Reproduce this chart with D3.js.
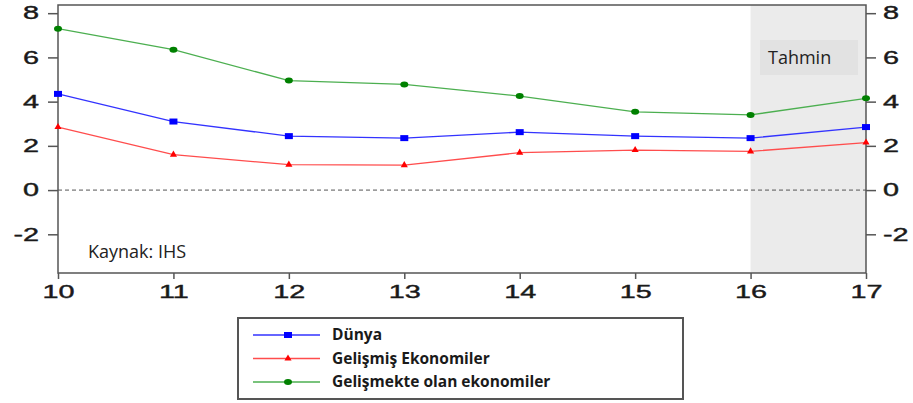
<!doctype html>
<html lang="tr">
  <head>
    <meta charset="UTF-8" />
    <title>Büyüme</title>
    <style>
      body { margin: 0; background: #fff; }
      svg { display: block; }
    </style>
  </head>
  <body>
    <svg id="chart"></svg>
    <script src="https://d3js.org/d3.v7.min.js"></script>
    <script>
      /* global d3 */

      // values
      const years = [10, 11, 12, 13, 14, 15, 16, 17];
      const dunya = [4.35, 3.1, 2.44, 2.35, 2.62, 2.44, 2.35, 2.85];
      const gelismis = [2.85, 1.6, 1.15, 1.13, 1.69, 1.81, 1.75, 2.15];
      const gelismekte = [7.3, 6.35, 4.95, 4.78, 4.25, 3.54, 3.4, 4.15];
      const yTicks = [-2, 0, 2, 4, 6, 8];
      const forecastFrom = 16;

      const series = [
        { name: "Dünya", values: dunya, color: "#3333ff", marker: "square", mcolor: "#0000ff" },
        { name: "Gelişmiş Ekonomiler", values: gelismis, color: "#ff4d4d", marker: "triangle", mcolor: "#ff0000" },
        { name: "Gelişmekte olan ekonomiler", values: gelismekte, color: "#4caf50", marker: "circle", mcolor: "#008000" },
      ];

      const width = 913,
        height = 403;
      const plot = { left: 58, right: 866, top: 5, bottom: 273 };

      const svg = d3.select("#chart").attr("width", width).attr("height", height);

      const x = d3.scaleLinear().domain([10, 17]).range([plot.left, plot.right]);
      const y = d3.scaleLinear().domain([-3.75, 8.37]).range([plot.bottom, plot.top]);
      const fmt = (d) => String(d); // plain hyphen, like the original

      // forecast shading
      svg.append("rect")
        .attr("x", x(forecastFrom))
        .attr("y", plot.top)
        .attr("width", x(17) - x(forecastFrom))
        .attr("height", plot.bottom - plot.top)
        .attr("fill", "#ebebeb");

      svg.append("rect")
        .attr("x", 760).attr("y", 40).attr("width", 98).attr("height", 35)
        .attr("fill", "#e2e2e2");
      svg.append("text")
        .attr("x", 768).attr("y", 64)
        .attr("font-family", "'Open Sans', sans-serif")
        .attr("font-size", 18)
        .attr("fill", "#222")
        .text("Tahmin");

      // zero line
      svg.append("line")
        .attr("x1", plot.left).attr("x2", plot.right)
        .attr("y1", y(0)).attr("y2", y(0))
        .attr("stroke", "#555").attr("stroke-dasharray", "4,3");

      // the original's tick labels are stretched sideways
      const tickFont = (g) => {
        g.select(".domain").remove();
        g.selectAll(".tick line").attr("stroke", "#555").attr("stroke-width", 1.5);
        g.selectAll(".tick text")
          .attr("font-family", "'Liberation Sans', Arial, sans-serif")
          .attr("font-size", 18)
          .attr("fill", "#1a1a1a")
          .attr("stroke", "#1a1a1a")
          .attr("stroke-width", 0.4)
          .each(function () {
            const t = d3.select(this);
            const tx = +t.attr("x") || 0;
            t.attr("x", 0).attr("transform", `translate(${tx},0) scale(1.6,1)`);
          });
      };

      svg.append("g")
        .attr("transform", `translate(${plot.left},0)`)
        .call(d3.axisLeft(y).tickValues(yTicks).tickSize(10).tickPadding(9).tickFormat(fmt))
        .call(tickFont);
      svg.append("g")
        .attr("transform", `translate(${plot.right},0)`)
        .call(d3.axisRight(y).tickValues(yTicks).tickSize(10).tickPadding(7).tickFormat(fmt))
        .call(tickFont);
      svg.append("g")
        .attr("transform", `translate(0,${plot.bottom})`)
        .call(d3.axisBottom(x).tickValues(years).tickSize(6).tickPadding(6).tickFormat(fmt))
        .call(tickFont);

      // frame
      svg.append("rect")
        .attr("x", plot.left).attr("y", plot.top)
        .attr("width", plot.right - plot.left).attr("height", plot.bottom - plot.top)
        .attr("fill", "none").attr("stroke", "#555").attr("stroke-width", 1.5);

      svg.append("text")
        .attr("x", 88).attr("y", 258)
        .attr("font-family", "'Open Sans', sans-serif")
        .attr("font-size", 18)
        .attr("fill", "#222")
        .text("Kaynak: IHS");

      const line = d3.line().x((d, i) => x(years[i])).y((d) => y(d));

      function drawMarker(g, type, color, cx, cy) {
        if (type === "square") {
          g.append("rect").attr("x", cx - 4).attr("y", cy - 3).attr("width", 8).attr("height", 6).attr("fill", color);
        } else if (type === "triangle") {
          g.append("path").attr("d", d3.symbol(d3.symbolTriangle, 22)()).attr("transform", `translate(${cx},${cy})`).attr("fill", color);
        } else {
          g.append("ellipse").attr("cx", cx).attr("cy", cy).attr("rx", 4).attr("ry", 3).attr("fill", color);
        }
      }

      series.forEach((s) => {
        const g = svg.append("g");
        g.append("path")
          .attr("d", line(s.values))
          .attr("fill", "none")
          .attr("stroke", s.color)
          .attr("stroke-width", 1.3);
        s.values.forEach((v, i) => drawMarker(g, s.marker, s.mcolor, x(years[i]), y(v)));
      });

      // legend
      const legend = svg.append("g");
      legend.append("rect")
        .attr("x", 238).attr("y", 318).attr("width", 445).attr("height", 81)
        .attr("fill", "#fff").attr("stroke", "#555").attr("stroke-width", 2);
      series.forEach((s, i) => {
        const cy = 335 + i * 23.5;
        legend.append("line")
          .attr("x1", 253).attr("x2", 320).attr("y1", cy).attr("y2", cy)
          .attr("stroke", s.color).attr("stroke-width", 1.3);
        drawMarker(legend, s.marker, s.mcolor, 288, cy);
        legend.append("text")
          .attr("x", 332).attr("y", cy + 5)
          .attr("font-family", "'Open Sans', sans-serif")
          .attr("font-weight", "bold")
          .attr("font-size", 15.5)
          .attr("fill", "#1a1a1a")
          .text(s.name);
      });
    </script>
  </body>
</html>
